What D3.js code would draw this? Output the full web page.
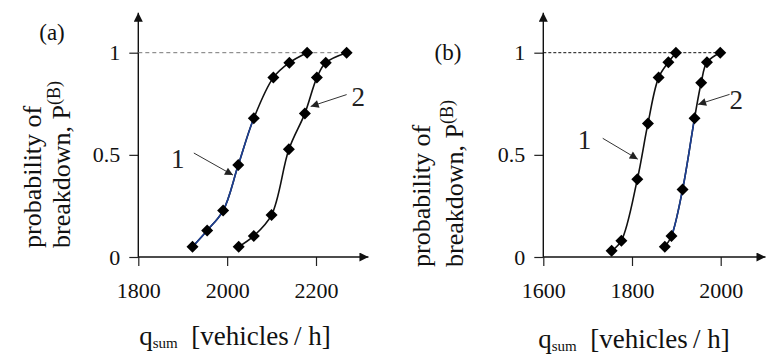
<!DOCTYPE html>
<html>
<head>
<meta charset="utf-8">
<script src="https://cdn.jsdelivr.net/npm/d3@7"></script>
<style>
  html, body { margin: 0; padding: 0; background: #fff; }
  svg, svg text { font-family: "Liberation Serif", "Times New Roman", Times, "DejaVu Serif", serif; }
</style>
</head>
<body>
<svg id="chart" width="766" height="358"></svg>
<script>
// ---- data: breakdown probability vs. total flow q_sum ----
// panel (a)
const aCurve1Flow = [1922, 1955, 1991, 2025, 2060, 2104, 2140, 2180];
const aCurve1Prob = [0.05, 0.13, 0.227, 0.45, 0.679, 0.878, 0.951, 1.0];
const aCurve2Flow = [2026, 2060, 2100, 2139, 2175, 2202, 2222, 2269];
const aCurve2Prob = [0.05, 0.103, 0.206, 0.527, 0.703, 0.878, 0.951, 1.0];
// panel (b)
const bCurve1Flow = [1754, 1776, 1812, 1836, 1860, 1882, 1899];
const bCurve1Prob = [0.03, 0.08, 0.38, 0.654, 0.878, 0.953, 1.0];
const bCurve2Flow = [1874, 1889, 1914, 1941, 1956, 1969, 1999];
const bCurve2Prob = [0.05, 0.103, 0.33, 0.679, 0.853, 0.953, 1.0];

const aFlowTicks = [1800, 2000, 2200];
const bFlowTicks = [1600, 1800, 2000];
const probTicks = [0, 0.5, 1];
const probTickLabels = ["0", "0.5", "1"];

const FONT = '"Liberation Serif", "Times New Roman", Times, "DejaVu Serif", serif';

const svg = d3.select("#chart");
const defs = svg.append("defs");

// arrowheads
defs.append("marker").attr("id", "axisHead")
  .attr("viewBox", "0 0 10 10").attr("refX", 10).attr("refY", 5)
  .attr("markerUnits", "userSpaceOnUse").attr("markerWidth", 11).attr("markerHeight", 9)
  .attr("orient", "auto")
  .append("path").attr("d", "M0,0 L10,5 L0,10 Z").attr("fill", "#111");
defs.append("marker").attr("id", "noteHead")
  .attr("viewBox", "0 0 10 10").attr("refX", 10).attr("refY", 5)
  .attr("markerUnits", "userSpaceOnUse").attr("markerWidth", 10).attr("markerHeight", 8)
  .attr("orient", "auto")
  .append("path").attr("d", "M0,0 L10,5 L0,10 Z").attr("fill", "#222");

function panel(cfg) {
  const x = d3.scaleLinear().domain(cfg.xDomain).range(cfg.xRange);
  const y = d3.scaleLinear().domain([0, 1]).range([257, 52.7]);
  const g = svg.append("g").style("font-family", FONT);

  // tick marks and labels
  const xAxis = g.append("g").attr("transform", `translate(0,${y(0)})`)
    .call(d3.axisBottom(x).tickValues(cfg.ticks).tickSize(9).tickSizeOuter(0).tickPadding(16)
      .tickFormat(d3.format("d")));
  xAxis.attr("font-family", null).style("font-family", FONT);
  xAxis.select(".domain").remove();
  xAxis.selectAll(".tick line").attr("stroke", "#222").attr("stroke-width", 1.2);
  xAxis.selectAll(".tick text").attr("font-size", 22).attr("fill", "#111");

  const yAxis = g.append("g").attr("transform", `translate(${x(cfg.xDomain[0])},0)`)
    .call(d3.axisLeft(y).tickValues(probTicks).tickSize(9).tickSizeOuter(0).tickPadding(9)
      .tickFormat((d, i) => probTickLabels[i]));
  yAxis.attr("font-family", null).style("font-family", FONT);
  yAxis.select(".domain").remove();
  yAxis.selectAll(".tick line").attr("stroke", "#222").attr("stroke-width", 1.2);
  yAxis.selectAll(".tick text").attr("font-size", 22).attr("fill", "#111");

  // axis lines with arrows
  g.append("line")
    .attr("x1", x(cfg.xDomain[0])).attr("x2", x(cfg.xEnd))
    .attr("y1", y(0)).attr("y2", y(0))
    .attr("stroke", "#111").attr("stroke-width", 1.4).attr("marker-end", "url(#axisHead)");
  g.append("line")
    .attr("x1", x(cfg.xDomain[0])).attr("x2", x(cfg.xDomain[0]))
    .attr("y1", y(0)).attr("y2", y(cfg.yEnd))
    .attr("stroke", "#111").attr("stroke-width", 1.4).attr("marker-end", "url(#axisHead)");

  // reference line at probability 1
  g.append("line")
    .attr("x1", x(cfg.xDomain[0])).attr("x2", x(cfg.dashEnd))
    .attr("y1", y(1)).attr("y2", y(1))
    .attr("stroke", cfg.dashColor).attr("stroke-width", 1)
    .attr("stroke-dasharray", cfg.dashArray);

  // curves
  const line = d3.line().x(d => x(d[0])).y(d => y(d[1])).curve(d3.curveCatmullRom.alpha(0.5));
  cfg.series.forEach((s, si) => {
    const pts = s.flow.map((f, i) => [f, s.prob[i]]);
    g.append("path").attr("d", line(pts)).attr("fill", "none")
      .attr("stroke", "#111").attr("stroke-width", 1.6);
    if (s.tint) {
      const id = `tint-${cfg.name}-${si}`;
      defs.append("clipPath").attr("id", id).append("rect")
        .attr("x", x(s.tint[0])).attr("width", x(s.tint[1]) - x(s.tint[0]))
        .attr("y", 0).attr("height", 358);
      g.append("path").attr("d", line(pts)).attr("fill", "none")
        .attr("clip-path", `url(#${id})`)
        .attr("stroke", "#1c3f94").attr("stroke-width", 1.6);
    }
    g.selectAll(null).data(pts).join("path")
      .attr("d", d3.symbol(d3.symbolSquare, 72)())
      .attr("transform", d => `translate(${x(d[0])},${y(d[1])}) rotate(45)`)
      .attr("fill", "#000");
  });

  // curve annotations
  cfg.notes.forEach(n => {
    g.append("line")
      .attr("x1", x(n.from[0])).attr("y1", y(n.from[1]))
      .attr("x2", x(n.to[0])).attr("y2", y(n.to[1]))
      .attr("stroke", "#333").attr("stroke-width", 1).attr("marker-end", "url(#noteHead)");
    g.append("text").attr("x", x(n.at[0])).attr("y", y(n.at[1]))
      .attr("text-anchor", "middle").attr("dominant-baseline", "central")
      .attr("font-size", 27).attr("fill", "#222").text(n.text);
  });

  // panel tag
  g.append("text").attr("x", cfg.tag[0]).attr("y", cfg.tag[1])
    .attr("text-anchor", "middle").attr("font-size", 23).attr("fill", "#111").text(cfg.tagText);

  // x-axis title
  const xt = g.append("text").attr("x", cfg.xTitle[0]).attr("y", cfg.xTitle[1])
    .attr("text-anchor", "middle").attr("font-size", 27).attr("fill", "#111");
  xt.append("tspan").text("q");
  xt.append("tspan").attr("font-size", 15).attr("dy", 3).text("sum");
  xt.append("tspan").attr("dy", -3).text("\u2002[vehicles\u2009/ h]");

  // y-axis title (two lines, rotated)
  g.append("text")
    .attr("transform", `translate(${cfg.yTitle[0]},${cfg.yTitle[2]}) rotate(-90)`)
    .attr("font-size", 26).attr("fill", "#111").text("probability of");
  const yt2 = g.append("text")
    .attr("transform", `translate(${cfg.yTitle[1]},${cfg.yTitle[2]}) rotate(-90)`)
    .attr("font-size", 26).attr("fill", "#111");
  yt2.append("tspan").text("breakdown, P");
  yt2.append("tspan").attr("font-size", 18).attr("dy", -10).text("(B)");
}

panel({
  name: "a",
  xDomain: [1800, 2200], xRange: [138.3, 316], xEnd: 2318, yEnd: 1.196,
  ticks: aFlowTicks, dashEnd: 2269, dashColor: "#777", dashArray: "4,3",
  series: [
    { flow: aCurve1Flow, prob: aCurve1Prob, tint: [1900, 2058] },
    { flow: aCurve2Flow, prob: aCurve2Prob }
  ],
  notes: [
    { text: "1", at: [1889, 0.48], from: [1925, 0.509], to: [2013, 0.401] },
    { text: "2", at: [2295, 0.783], from: [2269, 0.795], to: [2188, 0.737] }
  ],
  tag: [52, 40], tagText: "(a)",
  xTitle: [235, 345], yTitle: [41, 70, 248]
});

panel({
  name: "b",
  xDomain: [1600, 2000], xRange: [543.3, 720.7], xEnd: 2101, yEnd: 1.196,
  ticks: bFlowTicks, dashEnd: 1999, dashColor: "#111", dashArray: "3,2",
  series: [
    { flow: bCurve1Flow, prob: bCurve1Prob },
    { flow: bCurve2Flow, prob: bCurve2Prob, tint: [1887, 1940] }
  ],
  notes: [
    { text: "1", at: [1693, 0.573], from: [1734, 0.581], to: [1813, 0.479] },
    { text: "2", at: [2035, 0.768], from: [2020, 0.796], to: [1949, 0.747] }
  ],
  tag: [448, 60], tagText: "(b)",
  xTitle: [634, 348], yTitle: [430, 463, 267]
});
</script>
</body>
</html>
